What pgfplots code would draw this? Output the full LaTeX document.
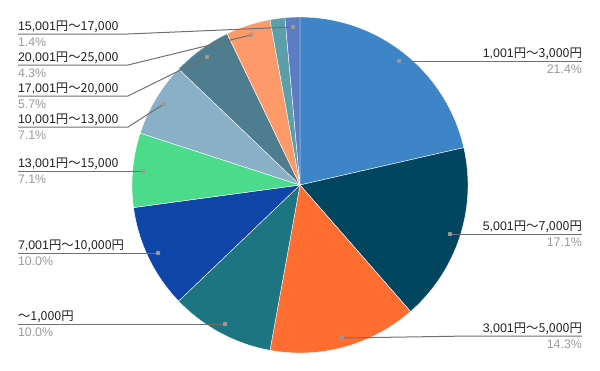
\documentclass[border=0pt]{standalone}
\usepackage{pgfplots}
\pgfplotsset{compat=1.18}
\usepackage{pgfplotstable}
\usepackage{fontspec}
\setmainfont{Liberation Sans}
\newfontfamily\cjk{Noto Sans CJK JP}

\definecolor{c0}{HTML}{3D85C6}
\definecolor{c1}{HTML}{02455F}
\definecolor{c2}{HTML}{FF6D31}
\definecolor{c3}{HTML}{1E7582}
\definecolor{c4}{HTML}{1045A8}
\definecolor{c5}{HTML}{4CDB8B}
\definecolor{c6}{HTML}{89B0C6}
\definecolor{c7}{HTML}{4D7D8F}
\definecolor{c8}{HTML}{FE9A6A}
\definecolor{c9}{HTML}{5C9FA8}
\definecolor{c10}{HTML}{5C7CC4}
\definecolor{lbl}{HTML}{222222}
\definecolor{pct}{HTML}{9A9A9A}
\definecolor{lead}{HTML}{707070}

% counts (out of 70), clockwise from 12 o'clock
\pgfplotstableread{
count
15
12
10
7
7
5
5
4
3
1
1
}\slices

\gdef\total{0}
\pgfplotstableforeachcolumnelement{count}\of\slices\as\v{%
  \pgfmathsetmacro\tmp{\total+\v}\xdef\total{\tmp}}
\gdef\cum{0}
\pgfplotstableforeachcolumnelement{count}\of\slices\as\v{%
  \pgfmathsetmacro\sta{\cum/\total*360}%
  \pgfmathsetmacro\tmp{\cum+\v}\xdef\cum{\tmp}%
  \pgfmathsetmacro\stb{\cum/\total*360}%
  \expandafter\xdef\csname sa\pgfplotstablerow\endcsname{\sta}%
  \expandafter\xdef\csname sb\pgfplotstablerow\endcsname{\stb}%
}

\newcommand{\en}{\cjk 円}
\newcommand{\ti}{\cjk ～}
\tikzset{
  lab/.style={font=\fontsize{9.3}{11}\selectfont, inner sep=0pt, outer sep=0pt, text=lbl},
  pc/.style={font=\fontsize{9.3}{11}\selectfont, inner sep=0pt, outer sep=0pt, text=pct},
}

\begin{document}
\begin{tikzpicture}
\begin{axis}[
  scale only axis, width=450pt, height=278.25pt,
  xmin=0, xmax=600, ymin=0, ymax=371, y dir=reverse,
  axis line style={draw=none}, ticks=none, clip=false,
]
\pgfplotsinvokeforeach{0,...,10}{
  \addplot[fill=c#1, draw=white, line width=0.3pt, samples=60, variable=\t,
    domain={\csname sa#1\endcsname}:{\csname sb#1\endcsname}]
    ({300+168*sin(\t)},{185-168*cos(\t)}) -- (axis cs:300,185) -- cycle;
}
% leader lines
\pgfplotsset{leader/.style={lead, line width=0.75pt, mark=none}}
\addplot[leader] coordinates {(399,61) (582,61)};
\addplot[leader] coordinates {(450,234) (582,234)};
\addplot[leader] coordinates {(342,338) (470,336) (582,336)};
\addplot[leader] coordinates {(225,324) (18,324)};
\addplot[leader] coordinates {(158,253) (18,253)};
\addplot[leader] coordinates {(143,171) (18,171)};
\addplot[leader] coordinates {(164,104) (128,127) (18,127)};
\addplot[leader] coordinates {(207,57) (128,96) (18,96)};
\addplot[leader] coordinates {(251,35) (128,65) (18,65)};
\addplot[leader] coordinates {(293,27) (128,34) (18,34)};
% anchor dots
\addplot[only marks, color=pct, mark=*, mark size=1.5pt, mark options={solid, fill=pct, draw=pct}]
  coordinates {(399,61) (450,234) (342,338) (225,324) (158,253) (143,171) (164,104) (207,57) (251,35) (293,27)};
% right labels
\node[lab, anchor=base east] at (axis cs:582,57.5) {1,001\en\ti3,000\en};
\node[pc, anchor=base east] at (axis cs:582,73.5) {21.4\%};
\node[lab, anchor=base east] at (axis cs:582,230.5) {5,001\en\ti7,000\en};
\node[pc, anchor=base east] at (axis cs:582,246.5) {17.1\%};
\node[lab, anchor=base east] at (axis cs:582,332.5) {3,001\en\ti5,000\en};
\node[pc, anchor=base east] at (axis cs:582,348.5) {14.3\%};
% left labels
\node[lab, anchor=base west] at (axis cs:18,30.5) {15,001\en\ti17,000};
\node[pc, anchor=base west] at (axis cs:18,46.5) {1.4\%};
\node[lab, anchor=base west] at (axis cs:18,61.5) {20,001\en\ti25,000};
\node[pc, anchor=base west] at (axis cs:18,77.5) {4.3\%};
\node[lab, anchor=base west] at (axis cs:18,92.5) {17,001\en\ti20,000};
\node[pc, anchor=base west] at (axis cs:18,108.5) {5.7\%};
\node[lab, anchor=base west] at (axis cs:18,123.5) {10,001\en\ti13,000};
\node[pc, anchor=base west] at (axis cs:18,139.5) {7.1\%};
\node[lab, anchor=base west] at (axis cs:18,167.5) {13,001\en\ti15,000};
\node[pc, anchor=base west] at (axis cs:18,183.5) {7.1\%};
\node[lab, anchor=base west] at (axis cs:18,249.5) {7,001\en\ti10,000\en};
\node[pc, anchor=base west] at (axis cs:18,265.5) {10.0\%};
\node[lab, anchor=base west] at (axis cs:18,320.5) {\ti1,000\en};
\node[pc, anchor=base west] at (axis cs:18,336.5) {10.0\%};
\end{axis}
\end{tikzpicture}
\end{document}
